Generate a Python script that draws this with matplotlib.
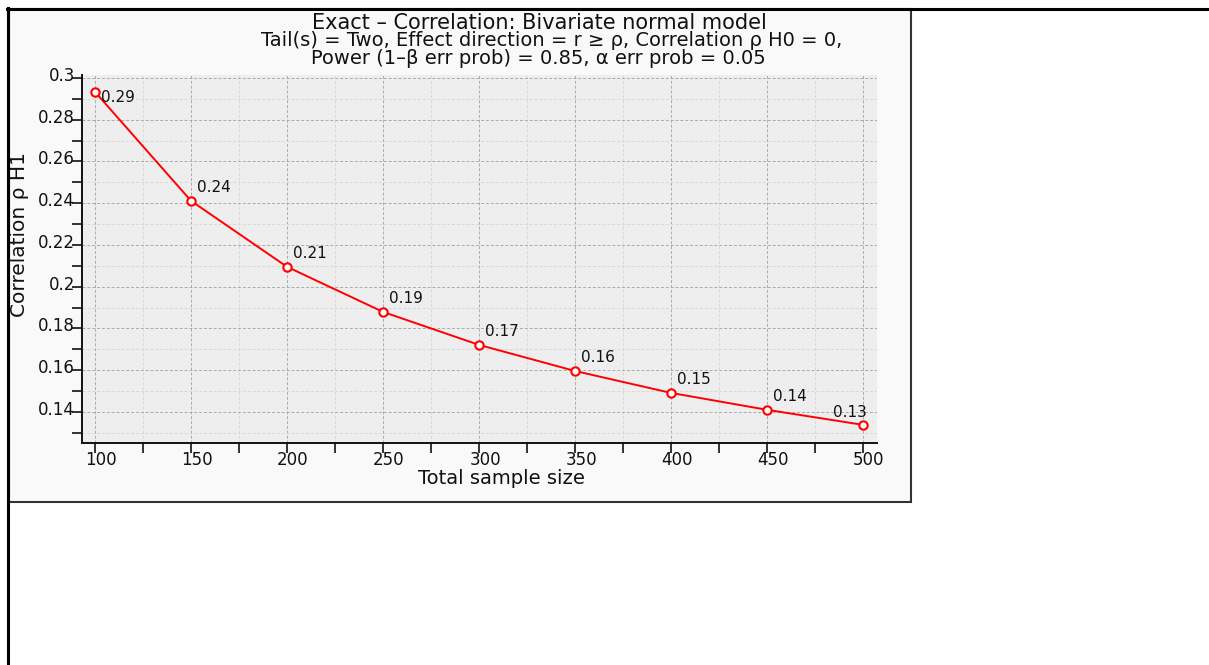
import numpy as np
import matplotlib
matplotlib.use("Agg")
import matplotlib.pyplot as plt
from matplotlib.patches import Rectangle
from matplotlib.lines import Line2D
from matplotlib.transforms import ScaledTranslation

# total sample size vs. required correlation under H1
n_total = [100, 150, 200, 250, 300, 350, 400, 450, 500]
rho_h1 = [0.2933, 0.2411, 0.2095, 0.1879, 0.1721, 0.1596, 0.1491, 0.1410, 0.1338]
point_labels = ["0.29", "0.24", "0.21", "0.19", "0.17", "0.16", "0.15", "0.14", "0.13"]

title = "Exact – Correlation: Bivariate normal model"
subtitle1 = "Tail(s) = Two, Effect direction = r ≥ ρ, Correlation ρ H0 = 0,"
subtitle2 = "Power (1–β err prob) = 0.85, α err prob = 0.05"

W, H = 1209, 665
fig = plt.figure(figsize=(W / 100, H / 100), dpi=100)
fig.patch.set_facecolor("white")

def fx(px):
    return px / W

def fy(py):
    return 1 - py / H

# grey panel behind the chart plus the outer frame lines
fig.add_artist(Rectangle((fx(9), fy(502)), fx(902), 493 / H, transform=fig.transFigure,
                         facecolor="#f9f9f9", edgecolor="#333333", lw=1.5, zorder=0))
fig.add_artist(Line2D([fx(7), 1], [fy(9), fy(9)], transform=fig.transFigure, color="black", lw=2.2))
fig.add_artist(Line2D([fx(8), fx(8)], [fy(8), 0], transform=fig.transFigure, color="black", lw=2.2))

ax = fig.add_axes([fx(82), fy(443), fx(877 - 82), (443 - 75) / H])
ax.set_facecolor("#eeeeee")
for s in ["top", "right"]:
    ax.spines[s].set_visible(False)
for s in ["left", "bottom"]:
    ax.spines[s].set_linewidth(1.4)
    ax.spines[s].set_color("#111111")

ax.plot(n_total, rho_h1, color="red", lw=1.4, marker="o", ms=6, mfc="white",
        mec="red", mew=1.5, zorder=5, clip_on=False)

for i, (x, y, t) in enumerate(zip(n_total, rho_h1, point_labels)):
    if i == 0:
        off, ha = (6, -6), "left"
    elif i == len(n_total) - 1:
        off, ha = (4, 12), "right"
    else:
        off, ha = (6, 13), "left"
    ax.annotate(t, (x, y), xytext=off, textcoords="offset pixels", ha=ha, va="center",
                fontsize=11, color="#111111", zorder=6)

ax.set_xlim(93.2, 507.3)
ax.set_ylim(0.1251, 0.3014)
ax.set_xticks(np.arange(100, 501, 50))
ax.set_xticks(np.arange(125, 501, 50), minor=True)
ax.set_yticks(np.arange(0.14, 0.301, 0.02))
ax.set_yticks(np.arange(0.13, 0.301, 0.02), minor=True)
ax.set_yticklabels(["0.14", "0.16", "0.18", "0.2", "0.22", "0.24", "0.26", "0.28", "0.3"])

ax.grid(which="major", color="#aaaaaa", ls=(0, (3, 2)), lw=0.7)
ax.grid(which="minor", color="#d8d8d8", ls=(0, (3, 2)), lw=0.7)
ax.set_axisbelow(True)

ax.tick_params(which="both", direction="out", length=7, width=1.2, color="#111111",
               labelsize=12, labelcolor="#111111")
ax.tick_params(axis="x", which="both", pad=-1.5)
ax.tick_params(axis="y", which="both", pad=-2)

dx = ScaledTranslation(6 / 100, 0, fig.dpi_scale_trans)
for lab in ax.get_xticklabels():
    lab.set_transform(lab.get_transform() + dx)
dy = ScaledTranslation(0, 4 / 100, fig.dpi_scale_trans)
for lab in ax.get_yticklabels():
    lab.set_transform(lab.get_transform() + dy)

fig.text(fx(539), fy(29), title, ha="center", va="baseline", fontsize=15, color="#111111")
fig.text(fx(552), fy(46), subtitle1, ha="center", va="baseline", fontsize=14, color="#111111")
fig.text(fx(538), fy(64), subtitle2, ha="center", va="baseline", fontsize=14, color="#111111")

fig.text(fx(501), fy(479), "Total sample size", ha="center", va="center", fontsize=14, color="#111111")
fig.text(fx(20), fy(234), "Correlation ρ H1", ha="center", va="center", rotation=90,
         fontsize=14.5, color="#111111")

fig.savefig("out.png", dpi=100)
